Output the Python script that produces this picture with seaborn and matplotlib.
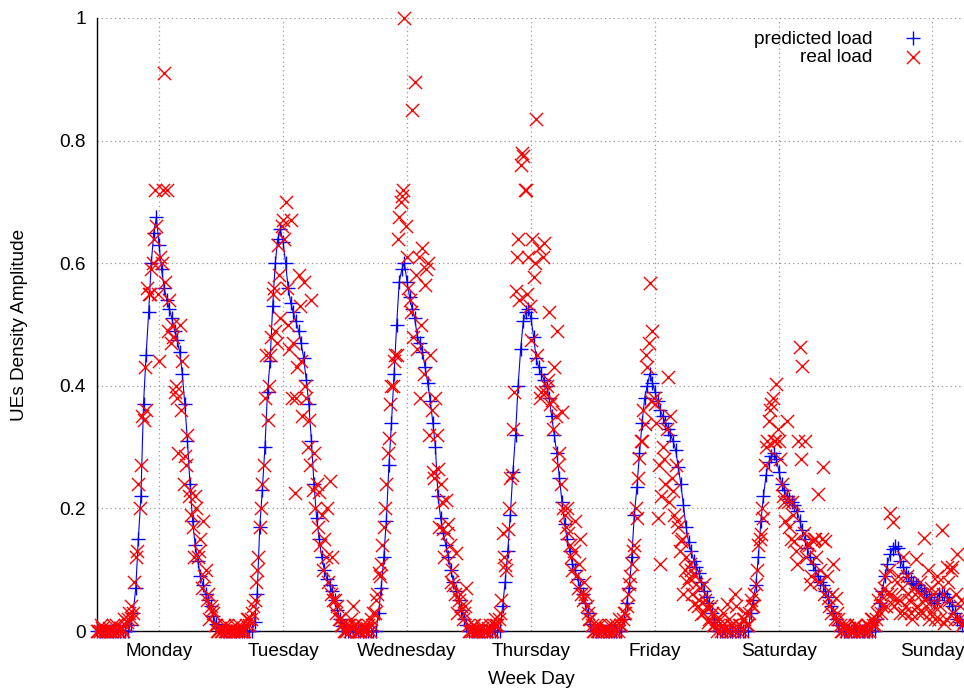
import numpy as np
import pandas as pd
import matplotlib
matplotlib.use("Agg")
import matplotlib.pyplot as plt
import seaborn as sns

# ---------------- data ----------------
day_names = ["Monday", "Tuesday", "Wednesday", "Thursday", "Friday", "Saturday", "Sunday"]
day_tick_hours = [12, 36, 60, 84, 108, 132, 161.6]
y_ticks = [0, 0.2, 0.4, 0.6, 0.8, 1.0]
y_tick_labels = ["0", "0.2", "0.4", "0.6", "0.8", "1"]
sample_step_h = 0.5      # predicted / real samples every 30 min
offset_h = 0.25          # second set of real samples, 15 min later

pred_mon = [0, 0, 0, 0, 0, 0, 0, 0, 0, 0, 0, 0, 0,
            0.01, 0.03, 0.07, 0.15, 0.22, 0.37, 0.45, 0.52, 0.60, 0.65,
            0.675, 0.63, 0.59, 0.56, 0.54, 0.525, 0.51, 0.49, 0.475, 0.455,
            0.42, 0.37, 0.31, 0.24, 0.18, 0.14, 0.115, 0.09, 0.075, 0.06,
            0.05, 0.04, 0.025, 0.012, 0.005]
pred_tue = [0, 0, 0, 0, 0, 0, 0, 0, 0, 0, 0, 0, 0,
            0.015, 0.06, 0.17, 0.23, 0.30, 0.39, 0.44, 0.53, 0.60, 0.64,
            0.655, 0.635, 0.60, 0.56, 0.535, 0.52, 0.505, 0.49, 0.47, 0.445,
            0.41, 0.37, 0.31, 0.24, 0.185, 0.15, 0.12, 0.10, 0.085, 0.075,
            0.065, 0.05, 0.035, 0.02, 0.008]
pred_wed = [0, 0, 0, 0, 0, 0, 0, 0, 0, 0, 0, 0, 0,
            0.03, 0.07, 0.12, 0.18, 0.27, 0.34, 0.42, 0.50, 0.57, 0.59,
            0.60, 0.57, 0.545, 0.525, 0.51, 0.48, 0.47, 0.455, 0.43, 0.405,
            0.375, 0.34, 0.30, 0.22, 0.185, 0.16, 0.14, 0.12, 0.10, 0.08,
            0.065, 0.05, 0.035, 0.02, 0.01]
pred_thu = [0, 0, 0, 0, 0, 0, 0, 0, 0, 0, 0, 0, 0,
            0.04, 0.08, 0.13, 0.19, 0.26, 0.32, 0.40, 0.46, 0.505, 0.52,
            0.525, 0.51, 0.48, 0.445, 0.43, 0.42, 0.41, 0.40, 0.38, 0.35,
            0.32, 0.29, 0.25, 0.21, 0.175, 0.15, 0.13, 0.11, 0.10, 0.085,
            0.07, 0.06, 0.045, 0.03, 0.012]
pred_fri = [0, 0, 0, 0, 0, 0, 0, 0, 0, 0, 0, 0,
            0.02, 0.045, 0.07, 0.12, 0.19, 0.235, 0.29, 0.34, 0.38, 0.40,
            0.42, 0.405, 0.39, 0.375, 0.36, 0.35, 0.34, 0.33, 0.32, 0.31,
            0.295, 0.267, 0.24, 0.205, 0.17, 0.145, 0.13, 0.115, 0.105, 0.095,
            0.08, 0.065, 0.055, 0.045, 0.03, 0.015]
pred_sat = [0, 0, 0, 0, 0, 0, 0, 0, 0, 0, 0, 0, 0,
            0.03, 0.05, 0.075, 0.12, 0.18, 0.22, 0.255, 0.275, 0.285, 0.29,
            0.28, 0.26, 0.24, 0.23, 0.22, 0.215, 0.21, 0.205, 0.195, 0.18,
            0.165, 0.15, 0.135, 0.12, 0.11, 0.10, 0.09, 0.08, 0.075, 0.065,
            0.055, 0.04, 0.03, 0.02, 0.01]
pred_sun = [0, 0, 0, 0, 0, 0, 0, 0, 0, 0, 0, 0, 0, 0,
            0.02, 0.045, 0.065, 0.09, 0.11, 0.125, 0.133, 0.138, 0.135, 0.115,
            0.105, 0.095, 0.088, 0.082, 0.078, 0.076, 0.075, 0.07, 0.065, 0.06,
            0.055, 0.05, 0.045, 0.05, 0.06, 0.062, 0.06, 0.055, 0.048, 0.04,
            0.03, 0.02, 0.015, 0.01]

# real load at hh:00 / hh:30
real_mon = [0, 0, 0.005, 0, 0, 0, 0.01, 0, 0, 0.005, 0, 0.01, 0.02,
            0.04, 0.03, 0.12, 0.24, 0.27, 0.345, 0.36, 0.55, 0.59, 0.64,
            0.66, 0.44, 0.60, 0.91, 0.72, 0.54, 0.50, 0.39, 0.38, 0.50,
            0.44, 0.285, 0.32, 0.23, 0.17, 0.22, 0.12, 0.15, 0.18, 0.10,
            0.06, 0.04, 0.03, 0.01, 0.0]
real_tue = [0, 0.01, 0, 0, 0.005, 0, 0, 0.01, 0, 0, 0.02, 0.01, 0.03,
            0.05, 0.10, 0.17, 0.24, 0.38, 0.345, 0.45, 0.55, 0.49, 0.63,
            0.51, 0.67, 0.70, 0.50, 0.67, 0.47, 0.38, 0.58, 0.44, 0.57,
            0.38, 0.345, 0.54, 0.29, 0.24, 0.226, 0.19, 0.15, 0.20, 0.245,
            0.12, 0.05, 0.04, 0.02, 0.01]
real_wed = [0, 0.01, 0, 0.04, 0.01, 0, 0, 0.005, 0, 0.01, 0.02, 0.03, 0.05,
            0.095, 0.11, 0.17, 0.24, 0.315, 0.40, 0.44, 0.45, 0.675, 0.71,
            1.0, 0.61, 0.54, 0.85, 0.895, 0.46, 0.38, 0.625, 0.565, 0.60,
            0.45, 0.26, 0.38, 0.265, 0.24, 0.167, 0.213, 0.174, 0.08, 0.075,
            0.128, 0.05, 0.04, 0.03, 0.07]
real_thu = [0, 0, 0.01, 0, 0, 0.005, 0, 0, 0.01, 0, 0.02, 0.01, 0.03,
            0.16, 0.108, 0.167, 0.25, 0.33, 0.554, 0.64, 0.76, 0.775, 0.72,
            0.61, 0.475, 0.577, 0.835, 0.625, 0.39, 0.633, 0.40, 0.52, 0.377,
            0.43, 0.49, 0.29, 0.357, 0.19, 0.20, 0.14, 0.10, 0.18, 0.07,
            0.15, 0.05, 0.06, 0.03, 0.02]
real_fri = [0, 0.01, 0, 0, 0, 0.005, 0.01, 0, 0, 0.01, 0.02, 0.01,
            0.03, 0.04, 0.076, 0.11, 0.14, 0.185, 0.283, 0.31, 0.338, 0.43,
            0.567, 0.49, 0.37, 0.185, 0.11, 0.30, 0.24, 0.414, 0.35, 0.229,
            0.27, 0.169, 0.147, 0.06, 0.12, 0.087, 0.10, 0.044, 0.076, 0.05,
            0.027, 0.076, 0.04, 0.02, 0.03, 0.01]
real_sat = [0, 0.02, 0.01, 0.005, 0.044, 0, 0.01, 0.06, 0, 0.01, 0.02, 0.03, 0.01,
            0.05, 0.04, 0.076, 0.14, 0.158, 0.185, 0.30, 0.343, 0.37, 0.31,
            0.403, 0.31, 0.24, 0.21, 0.343, 0.17, 0.21, 0.147, 0.11, 0.463,
            0.433, 0.31, 0.142, 0.076, 0.147, 0.15, 0.223, 0.10, 0.267, 0.147,
            0.054, 0.03, 0.11, 0.054, 0.02]
real_sun = [0, 0.01, 0, 0.005, 0, 0, 0.01, 0, 0, 0.005, 0.01, 0, 0.02, 0.01,
            0.03, 0.06, 0.04, 0.09, 0.06, 0.192, 0.178, 0.05, 0.09, 0.03,
            0.121, 0.04, 0.06, 0.03, 0.07, 0.118, 0.03, 0.06, 0.151, 0.04,
            0.02, 0.07, 0.04, 0.09, 0.02, 0.165, 0.013, 0.105, 0.05, 0.105,
            0.02, 0.125, 0.04, 0.01]

# real load at hh:15 / hh:45
real_mon_b = [0, 0.01, 0, 0, 0.005, 0, 0, 0.01, 0, 0.005, 0.02, 0.015, 0.03,
              0.02, 0.08, 0.13, 0.20, 0.35, 0.43, 0.56, 0.55, 0.60, 0.72,
              0.55, 0.61, 0.72, 0.57, 0.49, 0.47, 0.48, 0.40, 0.29, 0.36,
              0.24, 0.27, 0.22, 0.19, 0.12, 0.20, 0.13, 0.07, 0.09, 0.05,
              0.02, 0.035, 0.01, 0.0, 0.005]
real_tue_b = [0, 0, 0.01, 0, 0, 0.01, 0, 0, 0.005, 0.01, 0.02, 0.02, 0.04,
              0.08, 0.12, 0.20, 0.27, 0.45, 0.40, 0.48, 0.56, 0.47, 0.58,
              0.66, 0.64, 0.56, 0.46, 0.38, 0.225, 0.43, 0.53, 0.35, 0.40,
              0.30, 0.27, 0.23, 0.20, 0.17, 0.14, 0.10, 0.12, 0.08, 0.06,
              0.05, 0.03, 0.02, 0.01, 0.0]
real_wed_b = [0, 0.01, 0.02, 0.01, 0, 0, 0.01, 0, 0.005, 0, 0.01, 0.03, 0.06,
              0.09, 0.14, 0.20, 0.29, 0.37, 0.40, 0.45, 0.64, 0.70, 0.72,
              0.66, 0.56, 0.52, 0.48, 0.58, 0.61, 0.50, 0.42, 0.59, 0.32,
              0.36, 0.25, 0.32, 0.17, 0.21, 0.12, 0.16, 0.14, 0.10, 0.06,
              0.03, 0.06, 0.02, 0.04, 0.01]
real_thu_b = [0, 0.01, 0, 0, 0.01, 0, 0, 0.005, 0, 0.01, 0.01, 0.02, 0.05,
              0.12, 0.10, 0.20, 0.255, 0.39, 0.61, 0.54, 0.78, 0.72, 0.55,
              0.53, 0.64, 0.60, 0.45, 0.38, 0.61, 0.39, 0.41, 0.37, 0.33,
              0.35, 0.27, 0.24, 0.20, 0.17, 0.16, 0.12, 0.13, 0.09, 0.11,
              0.06, 0.08, 0.04, 0.02, 0.01]
real_fri_b = [0, 0, 0.01, 0, 0.005, 0, 0, 0.01, 0, 0, 0.01, 0.02,
              0.03, 0.06, 0.09, 0.13, 0.20, 0.25, 0.31, 0.36, 0.45, 0.47,
              0.375, 0.38, 0.34, 0.27, 0.22, 0.28, 0.33, 0.21, 0.25, 0.19,
              0.18, 0.13, 0.15, 0.10, 0.08, 0.11, 0.06, 0.09, 0.04, 0.07,
              0.03, 0.05, 0.015, 0.04, 0.01, 0.02]
real_sat_b = [0.01, 0, 0.03, 0, 0.02, 0.01, 0, 0.04, 0.01, 0, 0.02, 0.01, 0.03,
              0.04, 0.06, 0.10, 0.15, 0.20, 0.27, 0.31, 0.36, 0.38, 0.31,
              0.33, 0.28, 0.22, 0.18, 0.21, 0.15, 0.19, 0.13, 0.31, 0.28,
              0.16, 0.12, 0.14, 0.09, 0.15, 0.12, 0.08, 0.15, 0.06, 0.09,
              0.04, 0.06, 0.02, 0.03, 0.01]
real_sun_b = [0, 0.005, 0.01, 0, 0, 0.01, 0, 0.005, 0, 0, 0.01, 0.02, 0.01, 0.02,
              0.05, 0.03, 0.07, 0.04, 0.10, 0.06, 0.04, 0.08, 0.05, 0.07,
              0.03, 0.09, 0.05, 0.02, 0.06, 0.04, 0.08, 0.03, 0.05, 0.10,
              0.03, 0.06, 0.02, 0.08, 0.04, 0.06, 0.02, 0.08, 0.10, 0.03,
              0.06, 0.02, 0.05, 0.015]

predicted = pred_mon + pred_tue + pred_wed + pred_thu + pred_fri + pred_sat + pred_sun
real_a = real_mon + real_tue + real_wed + real_thu + real_fri + real_sat + real_sun
real_b = (real_mon_b + real_tue_b + real_wed_b + real_thu_b + real_fri_b
          + real_sat_b + real_sun_b)
assert len(predicted) == len(real_a) == len(real_b) == 336

hours = np.arange(len(predicted)) * sample_step_h
df_pred = pd.DataFrame({"hour": hours, "load": predicted})
df_real = pd.concat([
    pd.DataFrame({"hour": hours, "load": real_a}),
    pd.DataFrame({"hour": hours + offset_h, "load": real_b}),
]).sort_values("hour")

# ---------------- style ----------------
sns.set_style("white")
plt.rcParams["font.family"] = ["Liberation Sans", "DejaVu Sans"]
plt.rcParams["text.color"] = "black"
plt.rcParams["axes.labelcolor"] = "black"
FS = 13.7

W, H = 964, 689
fig = plt.figure(figsize=(W / 100, H / 100), dpi=100)
L, R, T, B = 97, 964, 18, 631
ax = fig.add_axes([L / W, 1 - B / H, (R - L) / W, (B - T) / H])

# predicted load: thin connecting line + "+" markers
sns.lineplot(data=df_pred, x="hour", y="load", ax=ax, color="blue",
             linewidth=0.8, estimator=None, errorbar=None, legend=False,
             clip_on=False, zorder=2)
sns.lineplot(data=df_pred, x="hour", y="load", ax=ax, color="blue",
             linestyle="none", marker="+", markersize=10.5,
             markeredgewidth=1.0, markeredgecolor="blue",
             estimator=None, errorbar=None, label="predicted load",
             clip_on=False, zorder=3)
# real load: red "x" markers
sns.scatterplot(data=df_real, x="hour", y="load", ax=ax, color="red",
                marker="x", s=90, linewidth=1.0, label="real load",
                clip_on=False, zorder=4)

hours_per_px = 24 / 124.0
ax.set_xlim(0, (R - L) * hours_per_px)
ax.set_ylim(0, 1)
ax.set_xticks(day_tick_hours)
ax.set_xticklabels(day_names, fontsize=FS)
ax.set_yticks(y_ticks)
ax.set_yticklabels(y_tick_labels, fontsize=FS)

ax.grid(True, color="#999999", linestyle=(0, (1, 2.5)), linewidth=0.9)
ax.set_axisbelow(True)
for s in ["top", "right"]:
    ax.spines[s].set_visible(False)
for s in ["left", "bottom"]:
    ax.spines[s].set_color("black")
    ax.spines[s].set_linewidth(1.0)
    ax.spines[s].set_zorder(1)
ax.tick_params(axis="both", direction="in", length=6.5, width=1.0,
               colors="black", labelcolor="black")
ax.tick_params(axis="x", pad=9)
ax.tick_params(axis="y", pad=8)

ax.set_xlabel("Week Day", fontsize=FS, color="black")
ax.set_ylabel("UEs Density Amplitude", fontsize=FS, color="black")
ax.xaxis.set_label_coords(0.5 + (531 - (L + R) / 2) / (R - L), -0.0645)
ax.yaxis.set_label_coords((28 - L) / (R - L), 0.5)

leg = ax.legend(loc="upper right", bbox_to_anchor=(0.963, 0.979),
                markerfirst=False, frameon=False, borderpad=0,
                borderaxespad=0, handletextpad=1.13, handlelength=2.0,
                labelspacing=0.0, fontsize=FS)
for t in leg.get_texts():
    t.set_color("black")

fig.savefig("out.png", dpi=100)
